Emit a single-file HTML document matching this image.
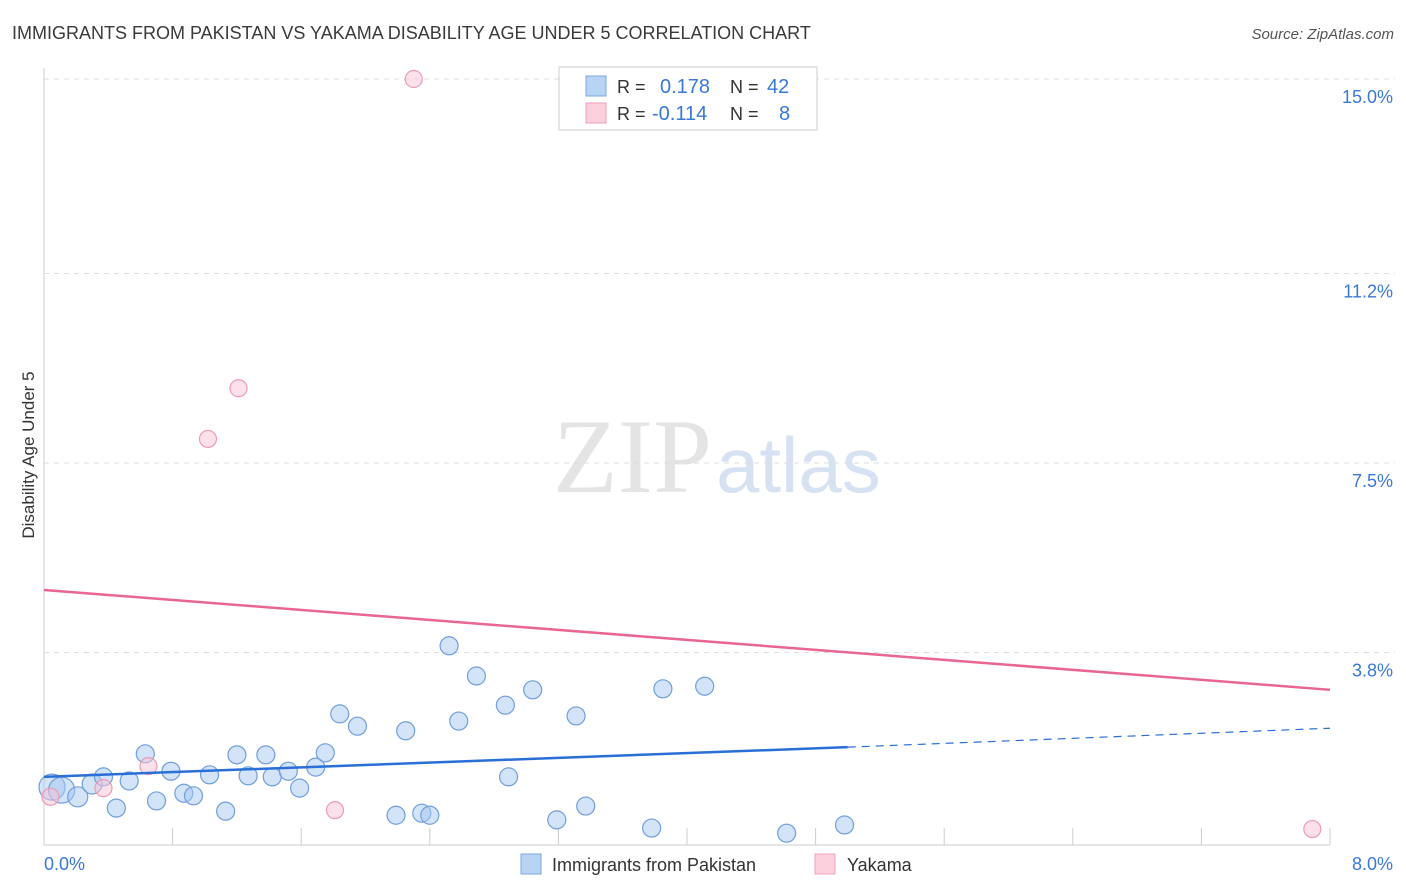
<!DOCTYPE html>
<html><head><meta charset="utf-8"><style>
body{margin:0;background:#fff;font-family:"Liberation Sans",sans-serif}
svg{display:block}
</style></head><body>
<svg width="1406" height="892" id="c">
<text x="12" y="39" font-size="18" fill="#3a3a3a">IMMIGRANTS FROM PAKISTAN VS YAKAMA DISABILITY AGE UNDER 5 CORRELATION CHART</text>
<text x="1394" y="39" font-size="15" fill="#555" font-style="italic" text-anchor="end">Source: ZipAtlas.com</text>
<text x="0" y="0" transform="translate(34,455) rotate(-90)" font-size="17" fill="#333" text-anchor="middle">Disability Age Under 5</text>
<text x="553" y="492" font-size="106" fill="#e4e4e4" font-family="Liberation Serif,serif">ZIP</text>
<text x="716" y="492" font-size="78" fill="#d6e2f2">atlas</text>
<g id="grid"></g><g id="marks"></g>
<g>
<rect x="559" y="67" width="258" height="63" fill="#fff" stroke="#ccc"/>
<rect x="586" y="76" width="20" height="20" fill="#b8d4f5" stroke="#7aa8e0"/>
<text x="617" y="93" font-size="18" fill="#333">R = </text><text x="660" y="93" font-size="20" fill="#3a78d8">0.178</text>
<text x="730" y="93" font-size="18" fill="#333">N = </text><text x="767" y="93" font-size="20" fill="#3a78d8">42</text>
<rect x="586" y="103" width="20" height="20" fill="#fbcfdc" stroke="#f0a0b8"/>
<text x="617" y="120" font-size="18" fill="#333">R = </text><text x="652" y="120" font-size="20" fill="#3a78d8">-0.114</text>
<text x="730" y="120" font-size="18" fill="#333">N = </text><text x="779" y="120" font-size="20" fill="#3a78d8">8</text>
</g>
<g>
<rect x="521" y="854" width="20" height="20" fill="#b8d4f5" stroke="#7aa8e0"/>
<text x="552" y="871" font-size="18" fill="#333">Immigrants from Pakistan</text>
<rect x="815" y="854" width="20" height="20" fill="#fbcfdc" stroke="#f0a0b8"/>
<text x="847" y="871" font-size="18" fill="#333">Yakama</text>
</g>
</svg>
<script>
const yTicks=[3.8,7.5,11.2,15.0];
const xTickLabels=["0.0%","8.0%"];
const blueX=[0.05,0.11,0.21,0.30,0.37,0.45,0.53,0.63,0.70,0.79,0.87,0.93,1.03,1.13,1.20,1.27,1.38,1.42,1.52,1.59,1.69,1.75,1.84,1.95,2.19,2.25,2.35,2.40,2.52,2.58,2.69,2.87,2.89,3.04,3.19,3.31,3.37,3.78,3.85,4.11,4.62,4.98];
const blueY=[1.17,1.11,0.98,1.23,1.37,0.76,1.29,1.82,0.90,1.48,1.05,1.00,1.41,0.70,1.80,1.39,1.80,1.37,1.48,1.15,1.56,1.84,2.60,2.36,0.62,2.27,0.66,0.62,3.93,2.46,3.34,2.77,1.37,3.07,0.53,2.56,0.80,0.37,3.09,3.14,0.27,0.43];
const pinkX=[0.04,0.37,0.65,1.02,1.21,1.81,2.30,7.89];
const pinkY=[0.98,1.15,1.58,7.97,8.96,0.72,15.0,0.35];
const blueTrend=[1.37,1.95,2.32]; // at x=0, 5, 8
const pinkTrend=[5.02,3.07]; // at x=0, 8
const X=v=>44+v*1286/8, Y=v=>847-v*768/15;
const NS="http://www.w3.org/2000/svg";
const grid=document.getElementById('grid'), marks=document.getElementById('marks');
function mk(tag,attrs,parent){const e=document.createElementNS(NS,tag);for(const k in attrs)e.setAttribute(k,attrs[k]);parent.appendChild(e);return e;}
let ax=mk('line',{x1:44,y1:68,x2:44,y2:845,stroke:'#ccc'},grid);


let bx=mk('line',{x1:44,y1:845,x2:1330,y2:845,stroke:'#ccc'},grid);


for(let i=1;i<=10;i++){const t=mk('line',{x1:X(i*0.8),y1:828,x2:X(i*0.8),y2:845,stroke:'#ccc'},grid);

}
yTicks.forEach(v=>{const g=mk('line',{x1:44,y1:Y(v),x2:1395,y2:Y(v),stroke:'#ddd','stroke-dasharray':'5,5'},grid);


const t=mk('text',{x:1393,y:Y(v)+24,'font-size':18,fill:'#3a78d8','text-anchor':'end'},grid);t.textContent=v.toFixed(1)+'%';

});
xTickLabels.forEach((s,i)=>{const t=mk('text',{x:i?1393:44,y:870,'font-size':18,fill:'#3a78d8','text-anchor':i?'end':'start'},grid);t.textContent=s;

});
blueX.forEach((x,i)=>{const r=i<2?13:(i<4?10:9);const c=mk('circle',{cx:X(x),cy:Y(blueY[i]),r:r,fill:'rgba(168,200,242,0.5)',stroke:'#6f9fdc','stroke-width':1.2},marks);

});
pinkX.forEach((x,i)=>{const c=mk('circle',{cx:X(x),cy:Y(pinkY[i]),r:8.5,fill:'rgba(250,195,213,0.5)',stroke:'#ee9ab5','stroke-width':1.2},marks);

});
let l1=mk('line',{x1:X(0),y1:Y(blueTrend[0]),x2:X(5),y2:Y(blueTrend[1]),stroke:'#2a6fd6','stroke-width':2.5},marks);


let l2=mk('line',{x1:X(5),y1:Y(blueTrend[1]),x2:X(8),y2:Y(blueTrend[2]),stroke:'#2a6fd6','stroke-width':1.2,'stroke-dasharray':'8,6'},marks);


let l3=mk('line',{x1:X(0),y1:Y(pinkTrend[0]),x2:X(8),y2:Y(pinkTrend[1]),stroke:'#e8668f','stroke-width':2.5},marks);


</script>
</body></html>
